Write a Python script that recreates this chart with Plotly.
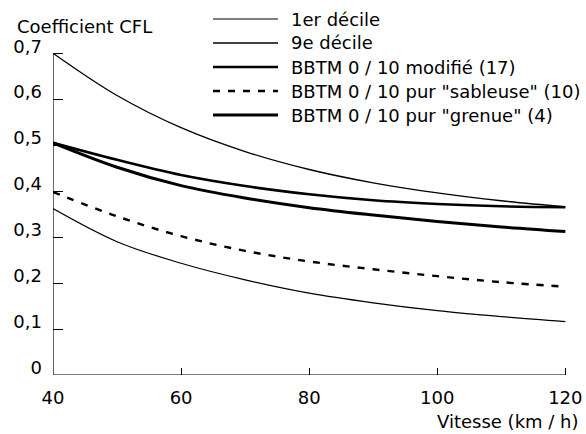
import plotly.graph_objects as go

# ---- data ----
vitesse = [40, 50, 60, 70, 80, 90, 100, 110, 120]
decile_1 = [0.362, 0.290, 0.243, 0.207, 0.178, 0.157, 0.140, 0.127, 0.116]
decile_9 = [0.700, 0.608, 0.538, 0.486, 0.447, 0.418, 0.396, 0.379, 0.366]
bbtm_modifie = [0.505, 0.468, 0.435, 0.411, 0.393, 0.380, 0.372, 0.367, 0.365]
bbtm_sableuse = [0.398, 0.345, 0.302, 0.270, 0.247, 0.230, 0.215, 0.202, 0.192]
bbtm_grenue = [0.505, 0.452, 0.412, 0.385, 0.364, 0.348, 0.334, 0.322, 0.312]

series_names = ["1er décile", "9e décile", "BBTM 0 / 10 modifié (17)",
                'BBTM 0 / 10 pur "sableuse" (10)', 'BBTM 0 / 10 pur "grenue" (4)']
series_values = [decile_1, decile_9, bbtm_modifie, bbtm_sableuse, bbtm_grenue]
series_styles = [dict(width=1.2, dash="solid"), dict(width=1.3, dash="solid"),
                 dict(width=2.6, dash="solid"), dict(width=2.4, dash="7px,8px"),
                 dict(width=3.0, dash="solid")]

x_ticks = [40, 60, 80, 100, 120]
y_ticks = [0, 0.1, 0.2, 0.3, 0.4, 0.5, 0.6, 0.7]
y_tick_labels = ["0", "0,1", "0,2", "0,3", "0,4", "0,5", "0,6", "0,7"]

FONT = "DejaVu Sans"
W, H = 586, 434
L, R, T, B = 53, 13, 44, 59
PW, PH = W - L - R, H - T - B

fig = go.Figure()
for name, vals, st in zip(series_names, series_values, series_styles):
    fig.add_trace(go.Scatter(x=vitesse, y=vals, mode="lines", name=name,
                             line=dict(color="black", width=st["width"], dash=st["dash"],
                                       shape="spline", smoothing=1.0),
                             showlegend=False))

def px_x(p):
    return (p - L) / PW

def px_y(p):
    return (H - B - p) / PH

shapes = [
    dict(type="line", xref="x", yref="y", x0=40, x1=120, y0=0, y1=0, line=dict(color="black", width=1.2)),
    dict(type="line", xref="x", yref="y", x0=40, x1=40, y0=0, y1=0.7, line=dict(color="black", width=1.2)),
]
annotations = []
row_y = [19, 43, 67, 91, 115]
for name, st, ry in zip(series_names, series_styles, row_y):
    shapes.append(dict(type="line", xref="paper", yref="paper", x0=px_x(213), x1=px_x(278),
                       y0=px_y(ry), y1=px_y(ry),
                       line=dict(color="black", width=st["width"], dash=st["dash"])))
    annotations.append(dict(xref="paper", yref="paper", x=px_x(289), y=px_y(ry), text=name,
                            showarrow=False, xanchor="left", yanchor="middle",
                            font=dict(family=FONT, size=18, color="black")))

annotations.append(dict(xref="paper", yref="paper", x=px_x(15), y=px_y(26), text="Coefficient CFL",
                        showarrow=False, xanchor="left", yanchor="middle",
                        font=dict(family=FONT, size=18, color="black")))
annotations.append(dict(xref="paper", yref="paper", x=px_x(581), y=px_y(421), text="Vitesse (km / h)",
                        showarrow=False, xanchor="right", yanchor="middle",
                        font=dict(family=FONT, size=18, color="black")))

fig.update_layout(
    width=W, height=H,
    margin=dict(l=L, r=R, t=T, b=B, autoexpand=False),
    paper_bgcolor="white", plot_bgcolor="white",
    shapes=shapes, annotations=annotations,
    showlegend=False,
    xaxis=dict(range=[40, 121.2], tickvals=x_ticks, ticktext=[str(v) for v in x_ticks],
               ticks="inside", ticklen=7, tickwidth=1.2, tickcolor="black",
               showgrid=False, zeroline=False, showline=False, automargin=False,
               tickfont=dict(family=FONT, size=18, color="black"), ticklabelstandoff=10),
    yaxis=dict(range=[0, 0.72], tickvals=y_ticks, ticktext=y_tick_labels,
               ticks="inside", ticklen=10, tickwidth=1.2, tickcolor="black",
               showgrid=False, zeroline=False, showline=False, automargin=False,
               tickfont=dict(family=FONT, size=18, color="black"),
               ticklabelshift=-7, ticklabelstandoff=10),
)

fig.write_html("out.html", config={"displayModeBar": False},
               post_script="document.body.style.margin='0';")
